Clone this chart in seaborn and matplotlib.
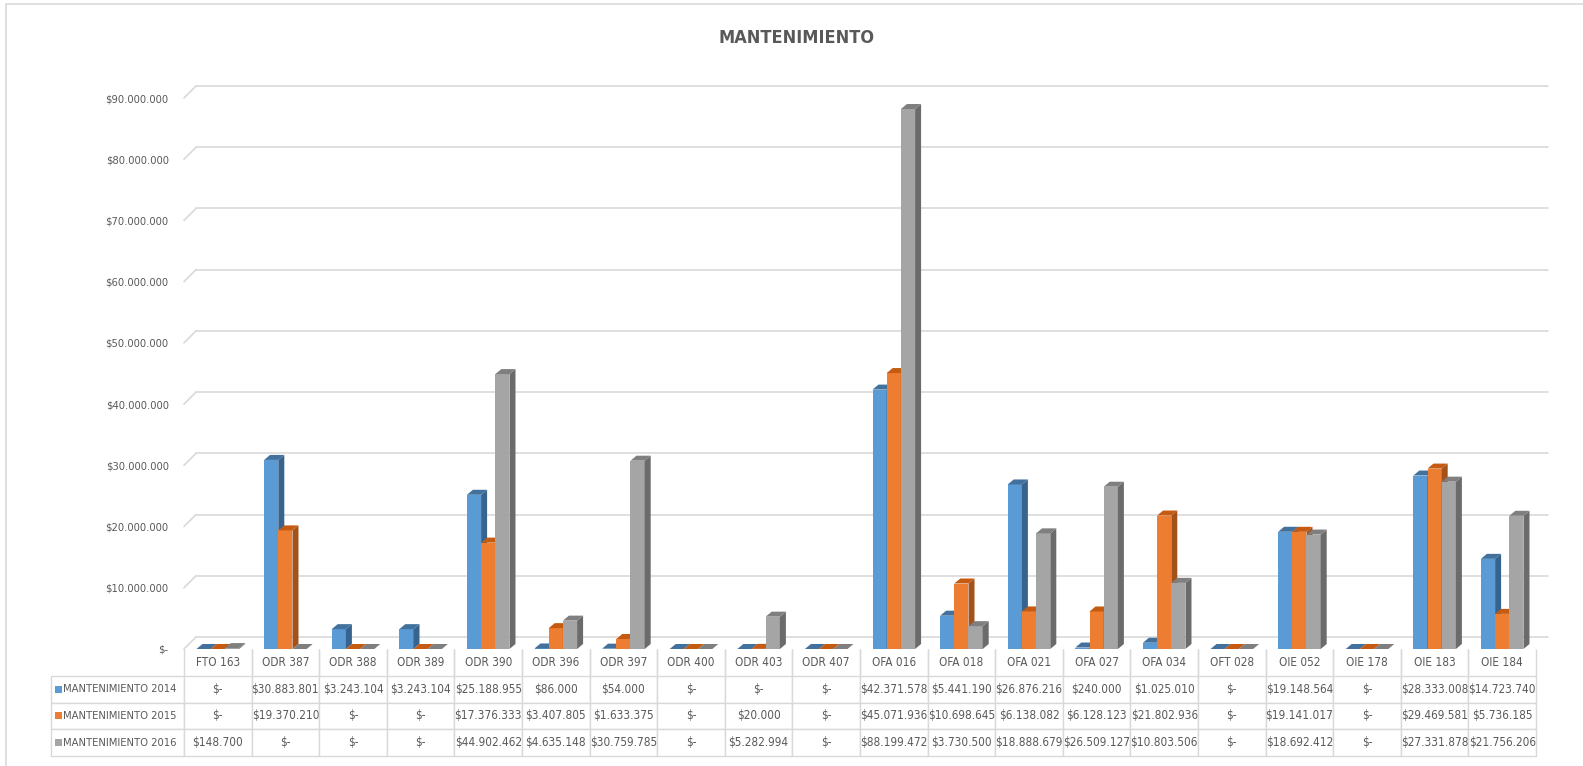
import matplotlib
matplotlib.use('Agg')
import matplotlib.pyplot as plt
import matplotlib.font_manager as fm
from matplotlib.patches import Polygon, Rectangle
from matplotlib.lines import Line2D
from matplotlib.transforms import ScaledTranslation
import seaborn as sns
import pandas as pd

equipos = ['FTO 163', 'ODR 387', 'ODR 388', 'ODR 389', 'ODR 390', 'ODR 396', 'ODR 397',
           'ODR 400', 'ODR 403', 'ODR 407', 'OFA 016', 'OFA 018', 'OFA 021', 'OFA 027',
           'OFA 034', 'OFT 028', 'OIE 052', 'OIE 178', 'OIE 183', 'OIE 184']
mant_2014 = [0, 30883801, 3243104, 3243104, 25188955, 86000, 54000, 0, 0, 0,
             42371578, 5441190, 26876216, 240000, 1025010, 0, 19148564, 0, 28333008, 14723740]
mant_2015 = [0, 19370210, 0, 0, 17376333, 3407805, 1633375, 0, 20000, 0,
             45071936, 10698645, 6138082, 6128123, 21802936, 0, 19141017, 0, 29469581, 5736185]
mant_2016 = [148700, 0, 0, 0, 44902462, 4635148, 30759785, 0, 5282994, 0,
             88199472, 3730500, 18888679, 26509127, 10803506, 0, 18692412, 0, 27331878, 21756206]
series = ['MANTENIMIENTO 2014', 'MANTENIMIENTO 2015', 'MANTENIMIENTO 2016']
y_ticks = [0, 10000000, 20000000, 30000000, 40000000, 50000000, 60000000, 70000000, 80000000, 90000000]

front_colors = ['#5B9BD5', '#ED7D31', '#A5A5A5']
cap_colors = ['#41719C', '#C55A11', '#7F7F7F']
side_colors = ['#36648E', '#A4521B', '#6B6B6B']
grid_color = '#D9D9D9'
text_color = '#595959'


def money(v):
    if v == 0:
        return '$-'
    return '$' + f'{v:,.0f}'.replace(',', '.')


sns.set_theme(style='white')

# the reference uses a narrow office font; take the narrowest one that is installed
fonts = fm.fontManager.ttflist
names = {f.name for f in fonts}
if 'Liberation Sans Narrow' in names:
    font, stretch = 'Liberation Sans Narrow', 'normal'
elif any(f.name == 'DejaVu Sans' and str(f.stretch) == 'condensed' for f in fonts):
    font, stretch = 'DejaVu Sans', 'condensed'
else:
    font, stretch = 'Liberation Sans', 'normal'
plt.rcParams['font.family'] = [font, 'DejaVu Sans']
plt.rcParams['font.stretch'] = stretch

# layout in pixels (top-origin), figure is 1583x766
W, H = 1583, 766
ax_l, ax_r, ax_t, ax_b = 184, 1536, 98, 649
tbl_l, tbl_t, tbl_b = 51, 649, 756

fig = plt.figure(figsize=(W / 100, H / 100), dpi=100)
ax = fig.add_axes([ax_l / W, 1 - ax_b / H, (ax_r - ax_l) / W, (ax_b - ax_t) / H])
ax.set_facecolor('none')

df = pd.DataFrame({
    'Equipo': equipos * 3,
    'Serie': [s for s in series for _ in equipos],
    'Valor': mant_2014 + mant_2015 + mant_2016,
})
sns.barplot(data=df, x='Equipo', y='Valor', hue='Serie', order=equipos, hue_order=series,
            palette=front_colors, width=0.63, saturation=1, linewidth=0, legend=False, ax=ax)

n = len(equipos)
ax.set_xlim(-0.5, n - 0.5)
ax.set_ylim(0, y_ticks[-1])
ppx = (ax_r - ax_l) / n
ppy = (ax_b - ax_t) / y_ticks[-1]
dx, dy = 6 / ppx, 5 / ppy

# fake 3D: side and top faces built from each seaborn bar
for i, cont in enumerate(ax.containers):
    for bar in cont:
        bar.set_zorder(3 + i)
        x0 = bar.get_x()
        x1 = x0 + bar.get_width()
        h = bar.get_height()
        ax.add_patch(Polygon([(x1, 0), (x1 + dx, dy), (x1 + dx, h + dy), (x1, h)],
                             closed=True, fc=side_colors[i], lw=0, zorder=3.5 + i))
        ax.add_patch(Polygon([(x0, h), (x1, h), (x1 + dx, h + dy), (x0 + dx, h + dy)],
                             closed=True, fc=cap_colors[i], lw=0, zorder=3.5 + i, clip_on=False))

# back wall gridlines with a slanted connector to the front plane
off = ScaledTranslation(0.12, 0.12, fig.dpi_scale_trans)
ytr = ax.get_yaxis_transform()
for v in y_ticks:
    ax.plot([0, 1], [v, v], transform=ytr + off, color=grid_color, lw=1.2, zorder=1, clip_on=False)
    ax.plot([0, 12 / (ax_r - ax_l)], [v, v + 12 / ppy], transform=ytr, color=grid_color,
            lw=1.2, zorder=1, clip_on=False)

ax.set_yticks(y_ticks)
ax.set_yticklabels([money(v) for v in y_ticks])
ax.tick_params(axis='y', length=0, pad=11, labelsize=8, labelcolor=text_color)
ax.set_xticks([])
ax.set_xlabel('')
ax.set_ylabel('')
ax.grid(False)
for s in ax.spines.values():
    s.set_visible(False)

# data table under the chart
rows = [[''] + equipos]
for s, vals in zip(series, [mant_2014, mant_2015, mant_2016]):
    rows.append([s] + [money(v) for v in vals])
ah = ax_b - ax_t
aw = ax_r - ax_l
tbl = ax.table(cellText=rows, cellLoc='center',
               colWidths=[ax_l - tbl_l] + [ppx] * n,
               bbox=[(tbl_l - ax_l) / aw, -(tbl_b - ax_b) / ah, (ax_r - tbl_l) / aw, (tbl_b - tbl_t) / ah])
tbl.auto_set_font_size(False)
tbl.set_fontsize(8.5)
for (r, c), cell in tbl.get_celld().items():
    cell.set_edgecolor(grid_color)
    cell.set_linewidth(1)
    cell.set_facecolor('white')
    cell.get_text().set_color(text_color)
    if r == 0:
        cell.visible_edges = '' if c == 0 else 'LR'
    if c == 0 and r > 0:
        cell.PAD = 0.09
        cell._loc = 'left'
        cell.get_text().set_ha('left')
        cell.get_text().set_fontsize(8)

row_h = (tbl_b - tbl_t) / 4
for i in range(3):
    cy = tbl_t + row_h * (i + 1.5)
    fig.add_artist(Rectangle((55 / W, 1 - (cy + 3.5) / H), 7 / W, 7 / H,
                             transform=fig.transFigure, color=front_colors[i], lw=0))

fig.text(0.503, 1 - 38 / H, 'MANTENIMIENTO', ha='center', va='center',
         fontsize=13, fontweight='bold', color=text_color)

# chart border (left and top edges visible in the reference)
fig.add_artist(Line2D([6 / W, 6 / W], [0, 1 - 4 / H], color=grid_color, lw=1.2))
fig.add_artist(Line2D([6 / W, 1], [1 - 4 / H, 1 - 4 / H], color=grid_color, lw=1.2))

fig.savefig('out.png', dpi=100)
plt.close(fig)
